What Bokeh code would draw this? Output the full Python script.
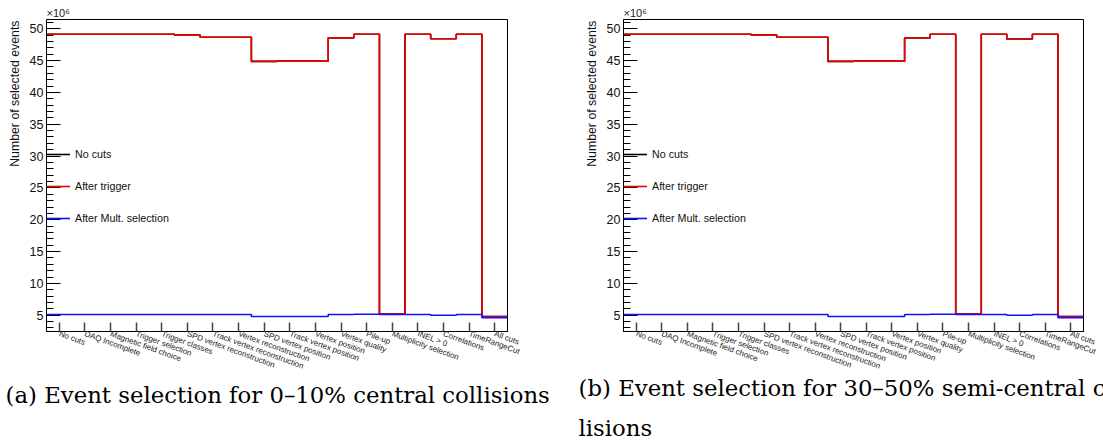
import numpy as np
from bokeh.plotting import figure
from bokeh.models import (Range1d, FixedTicker, CustomJSTickFormatter, Title,
                          Legend, LegendItem)
from bokeh.core.properties import value
from bokeh.layouts import row, column
from bokeh.embed import file_html
from bokeh.resources import INLINE

categories = ["No cuts", "DAQ Incomplete", "Magnetic field choice", "Trigger selection",
              "Trigger classes", "SPD vertex reconstruction", "Track vertex reconstruction",
              "Vertex reconstruction", "SPD vertex position", "Track vertex position",
              "Vertex position", "Vertex quality", "Pile-up", "Multiplicity selection",
              "INEL > 0", "Correlations", "TimeRangeCut", "All cuts"]

# (a) 0-10% central collisions: number of selected events
no_cuts_a = [49.15e6, 49.15e6, 49.15e6, 49.15e6, 49.15e6, 49.0e6, 48.68e6, 48.68e6, 44.88e6,
             44.92e6, 44.92e6, 48.58e6, 49.15e6, 5.18e6, 49.15e6, 48.43e6, 49.15e6, 4.8e6]
after_trigger_a = [49.15e6, 49.15e6, 49.15e6, 49.15e6, 49.15e6, 49.0e6, 48.68e6, 48.68e6, 44.88e6,
                   44.92e6, 44.92e6, 48.58e6, 49.15e6, 5.18e6, 49.15e6, 48.43e6, 49.15e6, 4.8e6]
after_mult_a = [5.1e6, 5.1e6, 5.1e6, 5.1e6, 5.1e6, 5.1e6, 5.1e6, 5.1e6, 4.8e6,
                4.8e6, 4.8e6, 5.1e6, 5.15e6, 5.1e6, 5.1e6, 5.0e6, 5.1e6, 4.62e6]

# (b) 30-50% semi-central collisions
no_cuts_b = [49.15e6, 49.15e6, 49.15e6, 49.15e6, 49.15e6, 49.0e6, 48.68e6, 48.68e6, 44.88e6,
             44.92e6, 44.92e6, 48.55e6, 49.15e6, 5.18e6, 49.15e6, 48.4e6, 49.15e6, 4.8e6]
after_trigger_b = [49.15e6, 49.15e6, 49.15e6, 49.15e6, 49.15e6, 49.0e6, 48.68e6, 48.68e6, 44.88e6,
                   44.92e6, 44.92e6, 48.55e6, 49.15e6, 5.18e6, 49.15e6, 48.4e6, 49.15e6, 4.8e6]
after_mult_b = [5.1e6, 5.1e6, 5.1e6, 5.1e6, 5.1e6, 5.1e6, 5.1e6, 5.1e6, 4.8e6,
                4.8e6, 4.8e6, 5.1e6, 5.15e6, 5.1e6, 5.1e6, 5.0e6, 5.1e6, 4.62e6]

series_names = ["No cuts", "After trigger", "After Mult. selection"]
series_colors = ["#000000", "#ee0000", "#1010ff"]

caption_a = ["(a) Event selection for 0\u201310% central collisions"]
caption_b = ["(b) Event selection for 30\u201350% semi-central col-", "lisions"]

SANS = "Liberation Sans"
MAIN_H = 377
OVERLAP = 12
CAP_TOP = MAIN_H - OVERLAP
CAP_H = 440 - CAP_TOP


def make_panel(values, width, border_left, border_right):
    n = len(categories)
    p = figure(width=width, height=MAIN_H, output_backend="svg", toolbar_location=None,
               x_range=Range1d(0, n), y_range=Range1d(2.44e6, 51.46e6),
               min_border_left=border_left, min_border_right=border_right,
               min_border_top=19, min_border_bottom=MAIN_H - 331,
               title="\u00d710\u2076")
    p.grid.visible = False
    p.outline_line_color = "black"
    p.outline_line_width = 1
    p.background_fill_color = "white"
    p.border_fill_color = "white"

    p.title.align = "left"
    p.title.offset = 0
    p.title.standoff = 2
    p.title.text_font = SANS
    p.title.text_font_size = "11px"
    p.title.text_font_style = "normal"
    p.title.text_color = "#222222"

    edges = np.arange(n + 1)
    renderers = []
    for vals, color in zip(values, series_colors):
        r = p.step(x=edges, y=list(vals) + [vals[-1]], mode="after",
                   line_color=color, line_width=1.6)
        renderers.append(r)

    xa = p.xaxis[0]
    xa.ticker = FixedTicker(ticks=[i + 0.5 for i in range(n)], minor_ticks=[])
    xa.formatter = CustomJSTickFormatter(args=dict(labels=categories),
                                         code="return labels[Math.floor(tick)]")
    xa.major_label_orientation = -0.35
    xa.major_tick_in = 9
    xa.major_tick_out = 0
    xa.minor_tick_in = 0
    xa.minor_tick_out = 0
    xa.major_label_standoff = 2
    xa.major_label_text_font = SANS
    xa.major_label_text_font_size = "8px"
    xa.major_label_text_color = "#222222"
    xa.axis_line_color = "black"
    xa.major_tick_line_color = "#444444"
    xa.major_tick_line_width = 1.5

    ya = p.yaxis[0]
    ya.ticker = FixedTicker(ticks=[k * 1e6 for k in range(5, 51, 5)],
                            minor_ticks=[k * 1e6 for k in range(3, 52) if k % 5])
    ya.formatter = CustomJSTickFormatter(code="return (tick/1e6).toFixed(0)")
    ya.major_tick_in = 14
    ya.major_tick_out = 0
    ya.minor_tick_in = 7
    ya.minor_tick_out = 0
    ya.major_label_standoff = 3
    ya.major_label_text_font = SANS
    ya.major_label_text_font_size = "12.5px"
    ya.major_label_text_color = "#111111"
    ya.axis_line_color = "black"
    ya.major_tick_line_color = "black"
    ya.minor_tick_line_color = "black"

    p.add_layout(Title(text="Number of selected events", align="right", offset=1,
                       standoff=9, text_font=SANS, text_font_size="12.3px",
                       text_font_style="normal", text_color="#111111"), "left")

    legend = Legend(items=[LegendItem(label=nm, renderers=[r])
                           for nm, r in zip(series_names, renderers)],
                    location=(0, 103), padding=0, margin=0, spacing=12,
                    glyph_width=24, glyph_height=20, label_height=20, label_standoff=5,
                    border_line_alpha=0, background_fill_alpha=0,
                    label_text_font=SANS, label_text_font_size="10.7px",
                    label_text_color="#111111")
    p.add_layout(legend)
    return p


def make_caption(lines, width, x0, ys):
    c = figure(width=width, height=CAP_H, output_backend="svg", toolbar_location=None,
               title=None, x_range=Range1d(0, width), y_range=Range1d(CAP_H, 0),
               x_axis_type=None, y_axis_type=None, min_border=0)
    c.grid.visible = False
    c.outline_line_color = None
    c.background_fill_alpha = 0
    c.border_fill_alpha = 0
    c.text(x=[x0] * len(lines), y=ys, text=lines, text_font=value("DejaVu Serif"),
           text_font_size=value("22.8px"), text_color="black",
           text_align="left", text_baseline="alphabetic")
    return c


p1 = make_panel([no_cuts_a, after_trigger_a, after_mult_a], 552, 46, 45)
p2 = make_panel([no_cuts_b, after_trigger_b, after_mult_b], 551, 71, 20)
c1 = make_caption(caption_a, 552, 5, [394 - CAP_TOP])
c2 = make_caption(caption_b, 551, 26, [387 - CAP_TOP, 427 - CAP_TOP])

layout = column(row(p1, p2), row(c1, c2, margin=(-OVERLAP, 0, 0, 0)))
open("out.html", "w").write(file_html(layout, INLINE))
